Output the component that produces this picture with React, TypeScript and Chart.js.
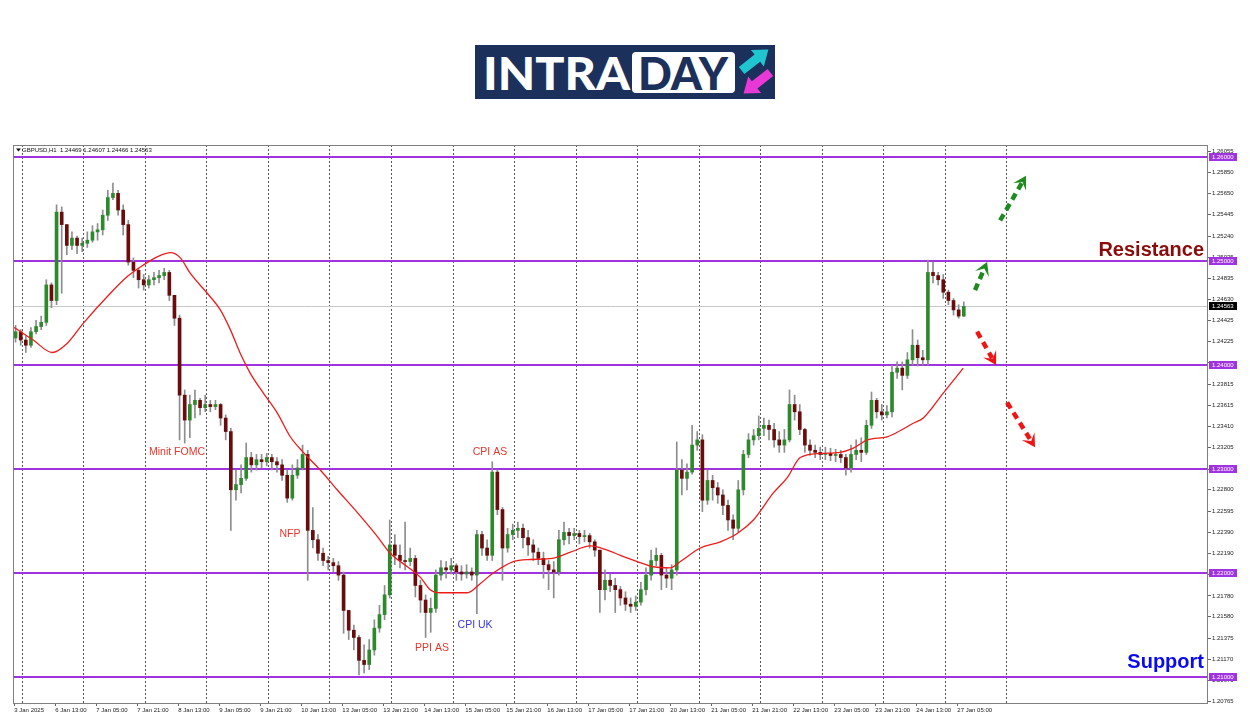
import React, { useEffect, useRef } from 'react';
import { Chart, registerables } from 'chart.js';
Chart.register(...registerables);

// ---------- DATA (2-hour candles) ----------
const firstOpen = 1.2426;
const closes = [
  1.2432, 1.2424, 1.2419, 1.2432, 1.2437, 1.2441, 1.2477, 1.2462, 1.2547, 1.2535,
  1.2515, 1.2522, 1.2515, 1.2517, 1.2520, 1.2528, 1.2530, 1.2544, 1.2561, 1.2565,
  1.2549, 1.2535, 1.2499, 1.2491, 1.2482, 1.2477, 1.2482, 1.2484, 1.2486, 1.2489,
  1.2467, 1.2445, 1.2371, 1.2347, 1.2362, 1.2366, 1.2359, 1.2362, 1.2360, 1.2362,
  1.2349, 1.2336, 1.2280, 1.2285, 1.2291, 1.2311, 1.2304, 1.2309, 1.2307, 1.2311,
  1.2307, 1.2304, 1.2294, 1.2272, 1.2294, 1.2301, 1.2314, 1.2241, 1.2232, 1.2219,
  1.2212, 1.2210, 1.2207, 1.2198, 1.2164, 1.2145, 1.2138, 1.2116, 1.2112, 1.2126,
  1.2147, 1.2160, 1.2179, 1.2227, 1.2217, 1.2212, 1.2211, 1.2214, 1.2188, 1.2174,
  1.2162, 1.2166, 1.2198, 1.2205, 1.2203, 1.2207, 1.2201, 1.2199, 1.2201, 1.2198,
  1.2237, 1.2224, 1.2217, 1.2297, 1.2261, 1.2224, 1.2237, 1.2241, 1.2243, 1.2234,
  1.2227, 1.2220, 1.2214, 1.2208, 1.2203, 1.2201, 1.2232, 1.2239, 1.2236, 1.2238,
  1.2235, 1.2236, 1.2230, 1.2222, 1.2184, 1.2193, 1.2188, 1.2184, 1.2176, 1.2170,
  1.2168, 1.2172, 1.2184, 1.2198, 1.2212, 1.2217, 1.2198, 1.2195, 1.2203, 1.2299,
  1.2291, 1.2297, 1.2323, 1.2328, 1.2270, 1.2289, 1.2282, 1.2275, 1.2265, 1.2251,
  1.2243, 1.2280, 1.2314, 1.2328, 1.2332, 1.2339, 1.2342, 1.2338, 1.2328, 1.2323,
  1.2328, 1.2362, 1.2355, 1.2338, 1.2323, 1.2318, 1.2316, 1.2314, 1.2315, 1.2313,
  1.2314, 1.2311, 1.2301, 1.2314, 1.2318, 1.2316, 1.2342, 1.2366, 1.2355, 1.2352,
  1.2355, 1.2393, 1.2397, 1.2390, 1.2405, 1.2419, 1.2407, 1.2405, 1.2489, 1.2486,
  1.2482, 1.2470, 1.2462, 1.2453, 1.2447, 1.24563,
];
const highs = [
  1.2438, 1.2434, 1.2428, 1.2436, 1.2443, 1.2447, 1.2482, 1.2479, 1.2554, 1.2552,
  1.2535, 1.2528, 1.2524, 1.2522, 1.2528, 1.2534, 1.2536, 1.2549, 1.2568, 1.2575,
  1.2568, 1.2554, 1.2539, 1.2503, 1.2493, 1.2487, 1.2486, 1.2489, 1.2491, 1.2493,
  1.2491, 1.2467, 1.2448, 1.2376, 1.2371, 1.2376, 1.2368, 1.2371, 1.2366, 1.2366,
  1.2363, 1.2352, 1.2339, 1.2299, 1.2304, 1.2325, 1.2316, 1.2314, 1.2314, 1.2315,
  1.2314, 1.2311, 1.2309, 1.2299, 1.2304, 1.2309, 1.2323, 1.2318, 1.2263, 1.2237,
  1.2224, 1.2216, 1.2214, 1.2211, 1.2201, 1.2164, 1.2150, 1.2140, 1.2131, 1.2136,
  1.2155, 1.2169, 1.2188, 1.2251, 1.2237, 1.2227, 1.2249, 1.2224, 1.2217, 1.2193,
  1.2179, 1.2176, 1.2203, 1.2212, 1.2211, 1.2214, 1.2209, 1.2207, 1.2208, 1.2205,
  1.2241, 1.2240, 1.2232, 1.2307, 1.2299, 1.2263, 1.2243, 1.2247, 1.2249, 1.2247,
  1.2241, 1.2232, 1.2224, 1.2220, 1.2212, 1.2211, 1.2241, 1.2249, 1.2243, 1.2243,
  1.2241, 1.2241, 1.2238, 1.2232, 1.2222, 1.2203, 1.2199, 1.2195, 1.2187, 1.2182,
  1.2176, 1.2178, 1.2191, 1.2205, 1.2222, 1.2224, 1.2219, 1.2205, 1.2208, 1.2326,
  1.2309, 1.2305, 1.2342, 1.2336, 1.2333, 1.2299, 1.2294, 1.2287, 1.2280, 1.2270,
  1.2256, 1.2289, 1.2318, 1.2334, 1.2338, 1.2351, 1.2349, 1.2347, 1.2344, 1.2336,
  1.2338, 1.2376, 1.2371, 1.2362, 1.2339, 1.2328, 1.2323, 1.2321, 1.2321, 1.2320,
  1.2319, 1.2318, 1.2314, 1.2323, 1.2328, 1.2330, 1.2347, 1.2374, 1.2368, 1.2362,
  1.2361, 1.2400, 1.2403, 1.2403, 1.2412, 1.2434, 1.2424, 1.2414, 1.2501, 1.2499,
  1.2489, 1.2487, 1.2472, 1.2464, 1.2458, 1.24607,
];
const lows = [
  1.2422, 1.2419, 1.2412, 1.2417, 1.2430, 1.2434, 1.2438, 1.2455, 1.2458, 1.2469,
  1.2506, 1.2511, 1.2507, 1.2509, 1.2513, 1.2518, 1.2520, 1.2525, 1.2539, 1.2559,
  1.2544, 1.2525, 1.2496, 1.2484, 1.2474, 1.2472, 1.2474, 1.2477, 1.2479, 1.2482,
  1.2462, 1.2438, 1.2328, 1.2325, 1.2330, 1.2349, 1.2352, 1.2355, 1.2355, 1.2357,
  1.2342, 1.2328, 1.2241, 1.2270, 1.2277, 1.2289, 1.2297, 1.2299, 1.2301, 1.2303,
  1.2299, 1.2297, 1.2289, 1.2268, 1.2270, 1.2291, 1.2299, 1.2193, 1.2224, 1.2212,
  1.2207, 1.2203, 1.2201, 1.2193, 1.2142, 1.2136, 1.2126, 1.2102, 1.2104, 1.2107,
  1.2121, 1.2143, 1.2155, 1.2176, 1.2208, 1.2205, 1.2203, 1.2207, 1.2177, 1.2162,
  1.2138, 1.2143, 1.2162, 1.2193, 1.2195, 1.2199, 1.2193, 1.2193, 1.2195, 1.2193,
  1.2161, 1.2217, 1.2212, 1.2212, 1.2256, 1.2193, 1.2220, 1.2232, 1.2234, 1.2224,
  1.2217, 1.2212, 1.2208, 1.2195, 1.2184, 1.2176, 1.2198, 1.2227, 1.2228, 1.2232,
  1.2228, 1.2230, 1.2224, 1.2216, 1.2162, 1.2174, 1.2182, 1.2162, 1.2169, 1.2164,
  1.2162, 1.2164, 1.2169, 1.2179, 1.2193, 1.2207, 1.2184, 1.2186, 1.2184, 1.2198,
  1.2275, 1.2280, 1.2295, 1.2318, 1.2259, 1.2266, 1.2270, 1.2267, 1.2256, 1.2241,
  1.2232, 1.2239, 1.2275, 1.2311, 1.2323, 1.2328, 1.2332, 1.2328, 1.2321, 1.2316,
  1.2316, 1.2326, 1.2347, 1.2333, 1.2316, 1.2313, 1.2311, 1.2309, 1.2309, 1.2308,
  1.2307, 1.2306, 1.2294, 1.2297, 1.2309, 1.2307, 1.2314, 1.2339, 1.2349, 1.2347,
  1.2349, 1.2350, 1.2387, 1.2376, 1.2387, 1.2400, 1.2399, 1.2400, 1.2400, 1.2479,
  1.2477, 1.2464, 1.2458, 1.2448, 1.2445, 1.24466,
];

// moving average (red line), read at H1 bar positions
const maBars = [
  0, 7.4, 14.8, 20.7, 26.9, 37.5, 44.1, 50.3, 55.8, 60.9,
  64.8, 68.7, 75.3, 80.4, 84.3, 88.2, 92.1, 97.2, 102.6, 107.7,
  112.8, 119.4, 126, 133.9, 141.7, 146.7, 153.4, 158.4, 162.3, 166.2,
  176.8, 181.9, 186.9, 194.7, 201.4, 210, 217, 224.8, 231.4, 236.5,
  243.1, 249.4, 256, 259.9, 267.7, 275.5, 282.1, 288.4, 296.2, 301.7,
  306.7, 314.5, 322.3, 327.4, 332.9, 340.7, 345.8, 350.8, 354.7, 362.5, 370.3,
];
const maValues = [
  1.2436, 1.2424, 1.2412, 1.2421, 1.2440, 1.2469, 1.2485, 1.2496, 1.2504, 1.2508,
  1.2503, 1.2488, 1.2469, 1.2453, 1.2434, 1.2411, 1.2392, 1.2373, 1.2354, 1.2331,
  1.2316, 1.2299, 1.2280, 1.2258, 1.2235, 1.2219, 1.2206, 1.2196, 1.2184, 1.2181,
  1.2181, 1.2190, 1.2200, 1.2211, 1.2213, 1.2214, 1.2220, 1.2226, 1.2222, 1.2217,
  1.2211, 1.2206, 1.2205, 1.2211, 1.2224, 1.2230, 1.2238, 1.2251, 1.2277, 1.2292,
  1.2311, 1.2315, 1.2316, 1.2320, 1.2328, 1.2331, 1.2337, 1.2344, 1.2349, 1.2373, 1.2397,
];

const xTickBars = [0, 16, 32, 48, 64, 80, 96, 112, 128, 144, 160, 176, 192, 208, 224, 240, 256, 272, 288, 304, 320, 336, 352, 368];
const xTickLabels = [
  '3 Jan 2025', '6 Jan 13:00', '7 Jan 05:00', '7 Jan 21:00', '8 Jan 13:00', '9 Jan 05:00',
  '9 Jan 21:00', '10 Jan 13:00', '13 Jan 05:00', '13 Jan 21:00', '14 Jan 13:00', '15 Jan 05:00',
  '15 Jan 21:00', '16 Jan 13:00', '17 Jan 05:00', '17 Jan 21:00', '20 Jan 13:00', '21 Jan 05:00',
  '21 Jan 21:00', '22 Jan 13:00', '23 Jan 05:00', '23 Jan 21:00', '24 Jan 13:00', '27 Jan 05:00',
];
const daySeparatorBars = [3, 27, 51, 75, 99, 123, 147, 171, 195, 219, 243, 267, 291, 315, 339, 363, 387];
const yTickValues = [
  1.26055, 1.2585, 1.2565, 1.25445, 1.2524, 1.25035, 1.24835, 1.2463, 1.24425, 1.24225,
  1.2402, 1.23815, 1.23615, 1.2341, 1.23205, 1.23, 1.228, 1.22595, 1.2239, 1.2219,
  1.21985, 1.2178, 1.2158, 1.21375, 1.2117, 1.2097, 1.20765,
];
const levels = [1.26, 1.25, 1.24, 1.23, 1.22, 1.21];
const currentPrice = 1.24563;
const headerText = 'GBPUSD,H1  1.24469 1.24607 1.24466 1.24563';

const notes = [
  { text: 'Minit FOMC', bar: 63.5, price: 1.2316, color: '#e8352d' },
  { text: 'NFP', bar: 107.6, price: 1.2237, color: '#e8352d' },
  { text: 'CPI AS', bar: 185.6, price: 1.2316, color: '#e8352d' },
  { text: 'PPI AS', bar: 163.0, price: 1.2128, color: '#e8352d' },
  { text: 'CPI UK', bar: 179.8, price: 1.2150, color: '#3535e0' },
];
const bigNotes = [
  { text: 'Resistance', price: 1.2510, color: '#8b0a0a' },
  { text: 'Support', price: 1.2114, color: '#0a0aee' },
];
const arrows = [
  { from: [374.9, 1.2472], to: [379.6, 1.2499], color: '#1f8a1f' },
  { from: [384.7, 1.2539], to: [394.8, 1.2582], color: '#1f8a1f' },
  { from: [375.7, 1.2432], to: [383.1, 1.2400], color: '#f01515' },
  { from: [387.4, 1.2364], to: [398.3, 1.2321], color: '#f01515' },
];

const BULL = '#2c8a2c';
const BEAR = '#6b0c0c';
const WICK = '#8d8d8d';
const PURPLE = '#a033e0';
const FONT = "'Liberation Sans', Arial, sans-serif";

function drawArrow(ctx: CanvasRenderingContext2D, x0: number, y0: number, x1: number, y1: number, color: string) {
  const ang = Math.atan2(y1 - y0, x1 - x0);
  const ux = Math.cos(ang), uy = Math.sin(ang);
  const len = 13, half = 7.5;
  const bx = x1 - ux * len, by = y1 - uy * len;
  ctx.save();
  ctx.strokeStyle = color;
  ctx.lineWidth = 4.5;
  ctx.setLineDash([7, 5]);
  ctx.beginPath();
  ctx.moveTo(x0, y0);
  ctx.lineTo(bx + ux * 5, by + uy * 5);
  ctx.stroke();
  ctx.setLineDash([]);
  ctx.fillStyle = color;
  ctx.beginPath();
  ctx.moveTo(x1, y1);
  ctx.lineTo(bx - uy * half, by + ux * half);
  ctx.lineTo(x1 - ux * len * 0.55, y1 - uy * len * 0.55);
  ctx.lineTo(bx + uy * half, by - ux * half);
  ctx.closePath();
  ctx.fill();
  ctx.restore();
}

const overlayPlugin = {
  id: 'overlay',
  beforeDatasetsDraw(chart: any) {
    const { ctx, chartArea: a, scales } = chart;
    const x = scales.x, y = scales.y;
    ctx.save();
    ctx.strokeStyle = '#555';
    ctx.lineWidth = 1;
    ctx.setLineDash([2, 2]);
    for (const b of daySeparatorBars) {
      const px = Math.round(x.getPixelForValue(b)) + 0.5;
      ctx.beginPath();
      ctx.moveTo(px, a.top);
      ctx.lineTo(px, a.bottom);
      ctx.stroke();
    }
    ctx.setLineDash([]);
    const cy = Math.round(y.getPixelForValue(currentPrice)) + 0.5;
    ctx.strokeStyle = '#c8c8c8';
    ctx.beginPath();
    ctx.moveTo(a.left, cy);
    ctx.lineTo(a.right, cy);
    ctx.stroke();
    ctx.strokeStyle = PURPLE;
    ctx.lineWidth = 2;
    for (const l of levels) {
      const py = Math.round(y.getPixelForValue(l));
      ctx.beginPath();
      ctx.moveTo(a.left, py);
      ctx.lineTo(a.right, py);
      ctx.stroke();
    }
    ctx.restore();
  },
  afterDraw(chart: any) {
    const { ctx, chartArea: a, scales } = chart;
    const x = scales.x, y = scales.y;
    ctx.save();
    ctx.strokeStyle = '#808080';
    ctx.lineWidth = 1;
    ctx.strokeRect(a.left + 0.5, a.top + 0.5, a.right - a.left - 1, a.bottom - a.top);
    ctx.fillStyle = '#111';
    ctx.beginPath();
    ctx.moveTo(a.left + 3, a.top + 3.5);
    ctx.lineTo(a.left + 8, a.top + 3.5);
    ctx.lineTo(a.left + 5.5, a.top + 6.5);
    ctx.closePath();
    ctx.fill();
    ctx.font = `6px ${FONT}`;
    ctx.textBaseline = 'middle';
    ctx.textAlign = 'left';
    ctx.fillText(headerText, a.left + 9, a.top + 5);
    const box = (v: number, fill: string) => {
      const py = Math.round(y.getPixelForValue(v));
      ctx.fillStyle = fill;
      ctx.fillRect(a.right + 1, py - 4, 28, 8);
      ctx.fillStyle = '#fff';
      ctx.font = `6px ${FONT}`;
      ctx.textBaseline = 'middle';
      ctx.textAlign = 'left';
      ctx.fillText(v.toFixed(5), a.right + 4, py + 0.5);
    };
    for (const l of levels) box(l, PURPLE);
    box(currentPrice, '#000');
    ctx.font = `10.5px ${FONT}`;
    ctx.textAlign = 'center';
    ctx.textBaseline = 'middle';
    for (const n of notes) {
      ctx.fillStyle = n.color;
      ctx.fillText(n.text, x.getPixelForValue(n.bar), y.getPixelForValue(n.price));
    }
    ctx.font = `bold 20px ${FONT}`;
    ctx.textAlign = 'right';
    for (const n of bigNotes) {
      ctx.fillStyle = n.color;
      ctx.fillText(n.text, a.right - 4, y.getPixelForValue(n.price));
    }
    for (const ar of arrows) {
      drawArrow(
        ctx,
        x.getPixelForValue(ar.from[0]), y.getPixelForValue(ar.from[1]),
        x.getPixelForValue(ar.to[0]), y.getPixelForValue(ar.to[1]),
        ar.color,
      );
    }
    ctx.restore();
  },
};

function Logo() {
  const navy = '#1c305c';
  return (
    <svg style={{ position: 'absolute', left: 475, top: 45 }} width={300} height={54} viewBox="0 0 300 54">
      <rect x={0} y={0} width={300} height={54} fill={navy} />
      <text x={8} y={45} fill="#ffffff" fontFamily="Lato, 'Open Sans', sans-serif" fontWeight={900} fontSize={46} textLength={147} lengthAdjust="spacingAndGlyphs">INTRA</text>
      <rect x={157} y={7} width={103} height={41} rx={4} fill="#ffffff" />
      <text x={163} y={45} fill={navy} fontFamily="Lato, 'Open Sans', sans-serif" fontWeight={900} fontSize={46} textLength={90} lengthAdjust="spacingAndGlyphs">DAY</text>
      <g transform="translate(280,15) rotate(-38)">
        <polygon points="-17,-4.5 3,-4.5 3,-10.5 17,0 3,10.5 3,4.5 -17,4.5" fill="#1fc6cf" />
      </g>
      <g transform="translate(282,38) rotate(142)">
        <polygon points="-17,-4.5 3,-4.5 3,-10.5 17,0 3,10.5 3,4.5 -17,4.5" fill="#e838d6" />
      </g>
    </svg>
  );
}

export default function App() {
  const ref = useRef<HTMLCanvasElement>(null);
  useEffect(() => {
    const candles = closes.map((c, i) => ({
      x: i * 2 + 0.5,
      o: i === 0 ? firstOpen : closes[i - 1],
      h: highs[i],
      l: lows[i],
      c,
    }));
    const chart = new Chart(ref.current as HTMLCanvasElement, {
      type: 'bar',
      data: {
        datasets: [
          {
            type: 'line',
            data: maBars.map((b, i) => ({ x: b, y: maValues[i] })),
            borderColor: '#ee1b1b',
            borderWidth: 1.3,
            pointRadius: 0,
            cubicInterpolationMode: 'monotone',
            order: 0,
          } as any,
          {
            type: 'bar',
            data: candles.map((k) => ({ x: k.x, y: [k.o, k.c] })),
            backgroundColor: candles.map((k) => (k.c >= k.o ? BULL : BEAR)),
            barThickness: 3,
            minBarLength: 1,
            grouped: false,
            borderWidth: 0,
            order: 1,
          } as any,
          {
            type: 'bar',
            data: candles.map((k) => ({ x: k.x, y: [k.l, k.h] })),
            backgroundColor: WICK,
            barThickness: 1,
            grouped: false,
            borderWidth: 0,
            order: 2,
          } as any,
        ],
      },
      options: {
        responsive: false,
        animation: false,
        devicePixelRatio: 1,
        layout: { padding: { left: 13, top: 145, right: 0, bottom: 0 } },
        plugins: { legend: { display: false }, tooltip: { enabled: false } },
        scales: {
          x: {
            type: 'linear',
            min: -0.5,
            max: 465.8,
            offset: false,
            bounds: 'data',
            grid: { drawOnChartArea: false, drawTicks: true, tickLength: 3, color: '#666', offset: false },
            border: { display: false },
            ticks: {
              autoSkip: false,
              maxRotation: 0,
              minRotation: 0,
              align: 'start',
              padding: 1,
              color: '#222',
              font: { family: FONT, size: 6 },
              callback: (v: any) => {
                const i = xTickBars.indexOf(Number(v));
                return i >= 0 ? xTickLabels[i] : '';
              },
            },
            afterBuildTicks: (s: any) => {
              s.ticks = xTickBars.map((v) => ({ value: v }));
            },
            afterFit: (s: any) => {
              s.height = 13;
            },
          },
          y: {
            type: 'linear',
            position: 'right',
            min: 1.2075,
            max: 1.261154,
            bounds: 'data',
            grid: { drawOnChartArea: false, drawTicks: true, tickLength: 3, color: '#666' },
            border: { display: false },
            ticks: {
              autoSkip: false,
              padding: 1,
              color: '#222',
              font: { family: FONT, size: 6 },
              callback: (v: any) => Number(v).toFixed(5),
            },
            afterBuildTicks: (s: any) => {
              s.ticks = yTickValues.map((v) => ({ value: v }));
            },
            afterFit: (s: any) => {
              s.width = 42;
            },
          },
        },
      } as any,
      plugins: [overlayPlugin],
    });
    return () => chart.destroy();
  }, []);
  return (
    <div style={{ position: 'absolute', left: 0, top: 0, width: 1250, height: 716, background: '#fff' }}>
      <canvas ref={ref} width={1250} height={716} style={{ position: 'absolute', left: 0, top: 0 }} />
      <Logo />
    </div>
  );
}
